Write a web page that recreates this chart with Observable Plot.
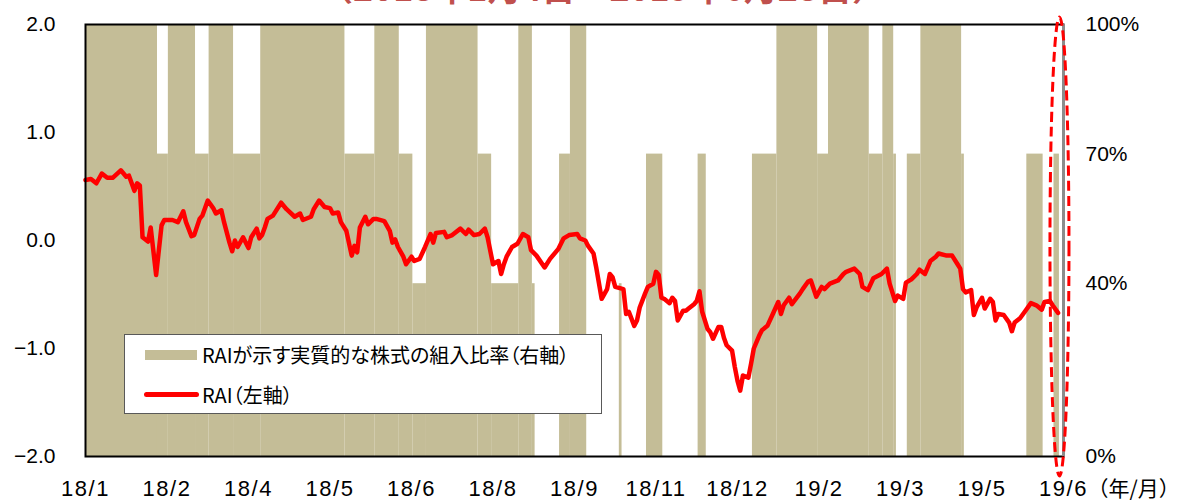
<!DOCTYPE html>
<html>
<head>
<meta charset="utf-8">
<script src="https://cdn.jsdelivr.net/npm/d3@7"></script>
<script src="https://cdn.jsdelivr.net/npm/@observablehq/plot@0.6"></script>
<style>
  html, body { margin: 0; padding: 0; background: #fff; }
  #wrap { position: relative; width: 1183px; height: 501px; overflow: hidden; }
  #wrap svg { position: absolute; left: 0; top: 0; overflow: visible; }
  g[aria-label="x-axis tick label"] text { letter-spacing: 1.5px; }
  #legend { position: absolute; left: 124px; top: 334px; width: 478px; height: 80px; box-sizing: border-box;
            background: #fff; border: 1px solid #595959; font-family: "Noto Sans CJK JP", sans-serif;
            font-size: 20px; font-feature-settings: "palt"; color: #000; }
  .sw1 { position: absolute; left: 20px; top: 15px; width: 52px; height: 10px; background: #C4BD97; }
  .sw2 { position: absolute; left: 19px; top: 57px; width: 55px; height: 5px; background: #FF0000; border-radius: 3px; }
  .lt { position: absolute; left: 77px; white-space: nowrap; line-height: 1; }
</style>
</head>
<body>
<div id="wrap"></div>
<script>
// ---- data ----
const titleText = "（2018年1月4日～2019年6月28日）";
const unitLabel = "（年/月）";
const legendLabels = ["RAIが示す実質的な株式の組入比率（右軸）", "RAI（左軸）"];

// x axis: trading-day index and its tick labels
const tickDays = [0, 30, 60, 90, 120, 150, 180, 210, 240, 270, 300, 330, 360];
const tickLabels = ["18/1","18/2","18/4","18/5","18/6","18/8","18/9","18/11","18/12","19/2","19/3","19/5","19/6"];
const leftTicks = [-2, -1, 0, 1, 2];
const pctTicks = [0, 40, 70, 100];

// RAI (left axis)
const raiDay = [
  0,2,4,6,8,10,13,15,16,18,
  19,20,21,23,24,26,28,29,32,34,
  36,37,39,40,42,43,45,47,48,50,
  51,53,54,55,56,58,60,61,63,64,
  65,66,67,69,72,74,77,79,80,83,
  84,86,88,90,91,93,94,96,98,99,
  100,101,103,104,106,107,110,112,113,114,
  115,117,118,120,121,123,125,127,128,129,
  132,133,135,138,140,141,143,145,147,148,
  150,152,153,154,155,157,159,161,163,164,
  166,169,171,174,176,178,181,182,184,185,
  187,188,190,192,193,194,195,198,199,200,
  202,203,204,206,207,209,210,211,212,213,
  215,216,217,218,220,221,222,224,225,226,
  227,229,230,231,233,234,235,236,238,239,
  240,241,242,244,245,246,248,249,251,253,
  255,256,257,259,260,263,264,266,267,269,
  271,272,274,277,279,280,283,285,286,288,
  290,293,295,296,298,299,301,302,304,306,
  307,309,311,313,314,317,319,321,322,323,
  324,326,327,328,330,331,333,334,335,336,
  338,340,341,342,344,346,348,350,352,353,
  355,356,358
];
const raiValue = [
  0.56,0.57,0.53,0.62,0.58,0.58,0.65,0.59,0.60,0.46,
  0.53,0.51,0.03,-0.01,0.12,-0.32,0.14,0.19,0.19,0.17,
  0.27,0.17,0.04,0.05,0.20,0.23,0.37,0.30,0.25,0.28,
  0.17,-0.02,-0.10,0.00,-0.06,0.03,-0.07,0.03,0.11,0.02,
  0.05,0.12,0.20,0.23,0.35,0.29,0.22,0.25,0.19,0.22,
  0.29,0.37,0.31,0.30,0.25,0.26,0.17,0.09,-0.14,-0.05,
  -0.11,0.12,0.22,0.15,0.20,0.20,0.18,0.09,-0.02,0.01,
  -0.06,-0.15,-0.22,-0.15,-0.19,-0.17,-0.06,0.06,-0.02,0.07,
  0.08,0.03,0.05,0.11,0.06,0.10,0.05,0.06,0.11,0.03,
  -0.22,-0.19,-0.31,-0.22,-0.15,-0.06,-0.03,0.06,0.03,-0.09,
  -0.14,-0.25,-0.17,-0.08,0.02,0.05,0.06,0.02,0.00,-0.05,
  -0.12,-0.25,-0.54,-0.45,-0.31,-0.34,-0.43,-0.45,-0.68,-0.66,
  -0.79,-0.74,-0.62,-0.49,-0.43,-0.40,-0.29,-0.32,-0.53,-0.54,
  -0.58,-0.53,-0.56,-0.74,-0.65,-0.65,-0.63,-0.59,-0.56,-0.47,
  -0.66,-0.82,-0.85,-0.91,-0.80,-0.80,-0.90,-0.97,-1.02,-1.17,
  -1.30,-1.39,-1.25,-1.27,-1.14,-1.00,-0.88,-0.83,-0.79,-0.68,
  -0.57,-0.68,-0.60,-0.53,-0.59,-0.49,-0.45,-0.38,-0.37,-0.52,
  -0.43,-0.45,-0.40,-0.37,-0.31,-0.29,-0.26,-0.31,-0.43,-0.46,
  -0.35,-0.31,-0.26,-0.40,-0.56,-0.51,-0.54,-0.39,-0.36,-0.31,
  -0.27,-0.31,-0.19,-0.15,-0.12,-0.14,-0.14,-0.22,-0.26,-0.45,
  -0.48,-0.46,-0.69,-0.62,-0.53,-0.63,-0.54,-0.57,-0.74,-0.68,
  -0.69,-0.76,-0.84,-0.76,-0.72,-0.65,-0.58,-0.60,-0.64,-0.57,
  -0.56,-0.60,-0.67
];

// equity allocation (right axis, %): first trading day of each run and its level
const allocStart = [
  0,27,31,41,46,55,65,96,107,116,
  121,126,145,150,160,165,166,175,179,185,
  197,198,207,213,226,229,246,255,270,274,
  289,294,298,299,303,308,323,324,347,353,
  357
];
const allocLevel = [
  100,70,100,70,100,70,100,70,100,70,
  40,100,70,40,100,40,0,70,100,0,
  40,0,70,0,70,0,70,100,70,100,
  70,100,70,0,70,100,70,0,70,0,
  70
];
const allocEnd = 359;

// annotation: dashed ellipse around the latest days
const markDay = 358.7, markValue = -0.06, markHalfDays = 3.5, markHalfValue = 2.125;

// ---- build ----
const toLeft = p => -2 + 4 * p / 100;  // right-axis % -> left-axis units
const rai = raiDay.map((d, i) => ({day: d, value: raiValue[i]}));
const alloc = allocStart.map((s, i) => ({
  start: s, end: i + 1 < allocStart.length ? allocStart[i + 1] : allocEnd, level: allocLevel[i]
})).filter(d => d.level > 0);

const chart = Plot.plot({
  width: 1183, height: 501,
  marginTop: 24, marginBottom: 45, marginLeft: 85, marginRight: 120,
  x: {domain: [0, 360], label: null},
  y: {domain: [-2, 2], label: null},
  style: {fontFamily: "'Liberation Sans', Arial, sans-serif", fontSize: "21px", color: "#000", background: "transparent", overflow: "visible"},
  marks: [
    Plot.rect(alloc, {x1: d => d.start - 0.5, x2: d => d.end - 0.5, y1: -2, y2: d => toLeft(d.level), fill: "#C4BD97", clip: true}),
    Plot.line(rai, {x: "day", y: "value", stroke: "#FF0000", strokeWidth: 4.5, strokeLinejoin: "round", strokeLinecap: "round"}),
    Plot.frame({stroke: "#000", strokeWidth: 2}),
    Plot.ruleX([360], {stroke: "#8c8c8c", strokeWidth: 3}),
    Plot.axisY({anchor: "left", label: null, ticks: leftTicks, tickFormat: d3.format(".1f"), tickSize: 0, tickPadding: 30, fontSize: 21}),
    Plot.axisY({anchor: "right", label: null, ticks: pctTicks.map(toLeft), tickFormat: y => Math.round((y + 2) * 25) + "%", tickSize: 0, tickPadding: 22, fontSize: 21}),
    Plot.axisX({label: null, ticks: tickDays, tickFormat: (d) => tickLabels[tickDays.indexOf(d)], tickSize: 0, tickPadding: 24, fontSize: 22}),
    Plot.text([unitLabel], {frameAnchor: "bottom-right", dx: 24, dy: 33, textAnchor: "start", lineAnchor: "middle", fontSize: 21, fontFamily: "'Noto Sans CJK JP', sans-serif"}),
    Plot.text([titleText], {frameAnchor: "top", dx: 28, dy: -24, lineAnchor: "bottom", fontSize: 34, fontWeight: "bold", fill: "#C0504D", fontFamily: "'Noto Sans CJK JP', sans-serif"})
  ]
});

// dashed ellipse, positioned through the chart's own scales
const sx = chart.scale("x"), sy = chart.scale("y");
const cx = sx.apply(markDay), cy = sy.apply(markValue);
d3.select(chart).append("ellipse")
  .attr("cx", cx).attr("cy", cy)
  .attr("rx", sx.apply(markDay + markHalfDays) - cx)
  .attr("ry", cy - sy.apply(markValue + markHalfValue))
  .attr("fill", "none").attr("stroke", "#FF0000").attr("stroke-width", 3)
  .attr("stroke-dasharray", "10,5");

const wrap = document.getElementById("wrap");
wrap.appendChild(chart);

const legend = document.createElement("div");
legend.id = "legend";
legend.innerHTML =
  `<div class="sw1"></div><div class="lt" style="top:10px">${legendLabels[0]}</div>` +
  `<div class="sw2"></div><div class="lt" style="top:50px">${legendLabels[1]}</div>`;
wrap.appendChild(legend);
</script>
</body>
</html>
